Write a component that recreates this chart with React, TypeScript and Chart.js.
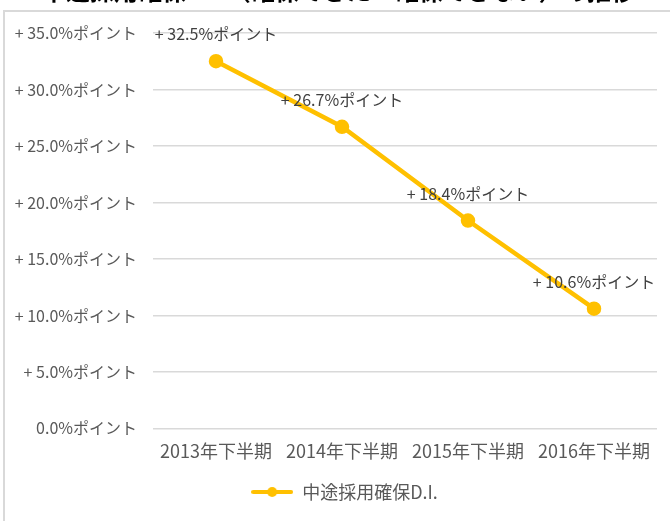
import React, { useEffect, useRef } from "react";
import { Chart, registerables } from "chart.js";

Chart.register(...registerables);

const categories = ["2013年下半期", "2014年下半期", "2015年下半期", "2016年下半期"];
const values = [32.5, 26.7, 18.4, 10.6];
const seriesName = "中途採用確保D.I.";
const titleText = "中途採用確保D.I.（確保できた－確保できない）の推移";
const yMin = 0;
const yMax = 35;
const yStep = 5;

const FONT = "'Noto Sans CJK JP', 'Noto Sans', sans-serif";
const ORANGE = "#FFC000";

const fmt = (v: number) => (v > 0 ? "+ " : "") + v.toFixed(1) + "%ポイント";

function makeLegendIcon(): HTMLCanvasElement {
  const c = document.createElement("canvas");
  c.width = 42;
  c.height = 12;
  const ctx = c.getContext("2d")!;
  ctx.strokeStyle = ORANGE;
  ctx.lineWidth = 4;
  ctx.lineCap = "round";
  ctx.beginPath();
  ctx.moveTo(2, 6);
  ctx.lineTo(40, 6);
  ctx.stroke();
  ctx.fillStyle = ORANGE;
  ctx.beginPath();
  ctx.arc(21, 6, 5, 0, Math.PI * 2);
  ctx.fill();
  return c;
}

export default function App() {
  const ref = useRef<HTMLCanvasElement | null>(null);

  useEffect(() => {
    if (!ref.current) return;
    const icon = makeLegendIcon();

    const framePlugin = {
      id: "frame",
      afterLayout(chart: any) {
        if (chart.legend) {
          chart.legend.left += 12;
          chart.legend.right += 12;
          chart.legend.top += 3;
          chart.legend.bottom += 3;
        }
      },
      beforeDraw(chart: any) {
        const ctx = chart.ctx;
        ctx.save();
        ctx.fillStyle = "#ffffff";
        ctx.fillRect(0, 0, chart.width, chart.height);
        ctx.strokeStyle = "#d9d9d9";
        ctx.lineWidth = 2;
        ctx.strokeRect(4, 11, chart.width + 20, chart.height + 20);
        ctx.fillStyle = "#000000";
        ctx.font = "bold 24px " + FONT;
        ctx.textBaseline = "alphabetic";
        ctx.textAlign = "left";
        ctx.fillText(titleText, 42, 0);
        ctx.restore();
      },
    };

    const labelPlugin = {
      id: "pointLabels",
      afterDatasetsDraw(chart: any) {
        const ctx = chart.ctx;
        const meta = chart.getDatasetMeta(0);
        const data = chart.data.datasets[0].data as number[];
        ctx.save();
        ctx.font = "16px " + FONT;
        ctx.fillStyle = "#404040";
        ctx.textAlign = "center";
        ctx.textBaseline = "middle";
        meta.data.forEach((pt: any, i: number) => {
          ctx.fillText(fmt(data[i]), pt.x, pt.y - 27);
        });
        ctx.restore();
      },
    };

    const chart = new Chart(ref.current, {
      type: "line",
      data: {
        labels: categories,
        datasets: [
          {
            label: seriesName,
            data: values,
            borderColor: ORANGE,
            backgroundColor: ORANGE,
            borderWidth: 4.5,
            pointRadius: 5,
            pointBackgroundColor: ORANGE,
            pointBorderColor: ORANGE,
            tension: 0,
          },
        ],
      },
      options: {
        responsive: false,
        animation: false,
        layout: { padding: { left: 8, right: 13, top: 33, bottom: 13 } },
        plugins: {
          title: { display: false },
          tooltip: { enabled: false },
          legend: {
            display: true,
            position: "bottom",
            labels: {
              usePointStyle: true,
              pointStyleWidth: 42,
              color: "#595959",
              font: { size: 18, family: FONT },
              padding: 6,
              generateLabels: (ch: any) =>
                ch.data.datasets.map((ds: any, i: number) => ({
                  text: ds.label,
                  fillStyle: ORANGE,
                  strokeStyle: ORANGE,
                  lineWidth: 0,
                  pointStyle: icon,
                  datasetIndex: i,
                  fontColor: "#595959",
                })),
            },
          },
        },
        scales: {
          x: {
            offset: true,
            grid: { display: false, drawTicks: false },
            border: { display: false },
            ticks: {
              color: "#595959",
              font: { size: 18, family: FONT },
              padding: 12,
              maxRotation: 0,
            },
          },
          y: {
            min: yMin,
            max: yMax,
            grid: { color: "#d9d9d9", lineWidth: 1.5, drawTicks: false },
            border: { display: false },
            afterFit: (scale: any) => {
              scale.width = 145;
            },
            ticks: {
              stepSize: yStep,
              color: "#595959",
              font: { size: 16, family: FONT },
              padding: 16,
              callback: (v: any) => fmt(Number(v)),
            },
          },
        },
      },
      plugins: [framePlugin, labelPlugin],
    });

    return () => chart.destroy();
  }, []);

  return (
    <div style={{ position: "fixed", left: 0, top: 0, width: 670, height: 521, background: "#fff" }}>
      <canvas ref={ref} width={670} height={521} style={{ display: "block" }} />
    </div>
  );
}
